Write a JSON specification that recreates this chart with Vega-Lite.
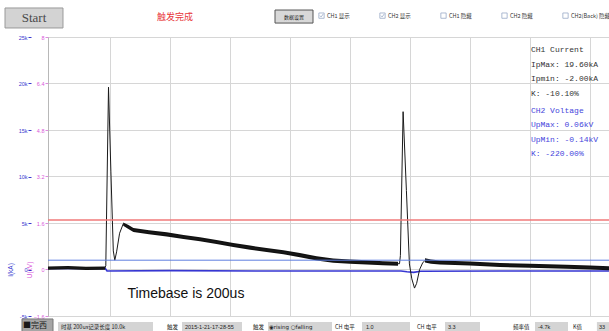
{
"$schema": "https://vega.github.io/schema/vega-lite/v6.json",
"width": 561, "height": 279,
"autosize": {"type": "none"},
"padding": {"left": 48, "top": 37, "right": 0, "bottom": 15},
"background": "white",
"config": {"view": {"stroke": "#c4c4c4", "strokeWidth": 1}, "font": "Liberation Sans"},
"datasets": {
"ch1": [{"t":-6.7,"I":0.15},{"t":60,"I":0.2},{"t":120,"I":0.12},{"t":182,"I":0.15},{"t":186,"I":0.4},{"t":195,"I":19.6},{"t":203,"I":10.5},{"t":211,"I":2.0},{"t":216,"I":1.0},{"t":222,"I":1.9},{"t":232,"I":3.9},{"t":244,"I":4.9},{"t":260,"I":4.6},{"t":278,"I":4.25},{"t":330,"I":4.0},{"t":389,"I":3.78},{"t":445,"I":3.5},{"t":500,"I":3.25},{"t":555,"I":2.95},{"t":611,"I":2.63},{"t":667,"I":2.35},{"t":722,"I":2.1},{"t":778,"I":1.85},{"t":833,"I":1.55},{"t":889,"I":1.2},{"t":944,"I":0.95},{"t":1000,"I":0.85},{"t":1056,"I":0.77},{"t":1110,"I":0.68},{"t":1165,"I":0.62},{"t":1168,"I":1.5},{"t":1177,"I":16.97},{"t":1188,"I":8.5},{"t":1198,"I":0.6},{"t":1206,"I":-1.0},{"t":1215,"I":-2.0},{"t":1222,"I":-1.5},{"t":1232,"I":0.0},{"t":1242,"I":0.7},{"t":1250,"I":0.98},{"t":1270,"I":0.85},{"t":1300,"I":0.75},{"t":1400,"I":0.65},{"t":1500,"I":0.48},{"t":1600,"I":0.4},{"t":1722,"I":0.3},{"t":1800,"I":0.22},{"t":1863.3,"I":0.13}],
"ch1band": [
{"t":-6.7,"lo":-0.02,"hi":0.32,"seg":"a"},{"t":60,"lo":0.03,"hi":0.37,"seg":"a"},{"t":120,"lo":-0.05,"hi":0.29,"seg":"a"},{"t":184,"lo":-0.02,"hi":0.32,"seg":"a"},
{"t":244,"lo":4.7,"hi":5.05,"seg":"b"},{"t":260,"lo":4.38,"hi":4.8,"seg":"b"},{"t":278,"lo":4.03,"hi":4.47,"seg":"b"},{"t":330,"lo":3.78,"hi":4.22,"seg":"b"},{"t":389,"lo":3.56,"hi":4.0,"seg":"b"},{"t":445,"lo":3.28,"hi":3.72,"seg":"b"},{"t":500,"lo":3.03,"hi":3.47,"seg":"b"},{"t":555,"lo":2.73,"hi":3.17,"seg":"b"},{"t":611,"lo":2.41,"hi":2.85,"seg":"b"},{"t":667,"lo":2.13,"hi":2.57,"seg":"b"},{"t":722,"lo":1.88,"hi":2.32,"seg":"b"},{"t":778,"lo":1.63,"hi":2.07,"seg":"b"},{"t":833,"lo":1.33,"hi":1.77,"seg":"b"},{"t":889,"lo":0.98,"hi":1.42,"seg":"b"},{"t":944,"lo":0.73,"hi":1.17,"seg":"b"},{"t":1000,"lo":0.63,"hi":1.07,"seg":"b"},{"t":1056,"lo":0.55,"hi":0.99,"seg":"b"},{"t":1110,"lo":0.46,"hi":0.9,"seg":"b"},{"t":1160,"lo":0.4,"hi":0.84,"seg":"b"},
{"t":1250,"lo":0.76,"hi":1.2,"seg":"c"},{"t":1270,"lo":0.63,"hi":1.07,"seg":"c"},{"t":1300,"lo":0.53,"hi":0.97,"seg":"c"},{"t":1400,"lo":0.43,"hi":0.87,"seg":"c"},{"t":1500,"lo":0.26,"hi":0.7,"seg":"c"},{"t":1600,"lo":0.18,"hi":0.62,"seg":"c"},{"t":1722,"lo":0.08,"hi":0.52,"seg":"c"},{"t":1800,"lo":0.0,"hi":0.44,"seg":"c"},{"t":1863.3,"lo":-0.09,"hi":0.35,"seg":"c"}],
"ch2": [{"t":-6.7,"U":0.04},{"t":184,"U":0.04},{"t":190,"U":-0.05},{"t":400,"U":-0.04},{"t":700,"U":-0.05},{"t":1000,"U":-0.05},{"t":1170,"U":-0.05},{"t":1190,"U":-0.08},{"t":1212,"U":-0.1},{"t":1235,"U":-0.06},{"t":1500,"U":-0.05},{"t":1863.3,"U":-0.05}],
"options": [{"option":"CH1 显示"},{"option":"CH2 显示"},{"option":"CH1 隐藏"},{"option":"CH2 隐藏"},{"option":"CH2(Back) 隐藏"}],
"one": [{}]
},
"layer": [
{
"layer": [
{"data": {"name": "ch2"},
 "mark": {"type": "line", "color": "#3636d2", "strokeWidth": 1.6},
 "encoding": {
  "x": {"field": "t", "type": "quantitative", "scale": {"domain": [-6.667, 1863.333], "nice": false, "zero": false},
        "axis": {"values": [200,400,600,800,1000,1200,1400,1600,1800], "grid": true, "gridColor": "#d6d6d6", "labels": false, "ticks": false, "domain": false, "title": null}},
  "y": {"field": "U", "type": "quantitative", "scale": {"domain": [-1.6, 8], "nice": false, "zero": false},
        "axis": {"orient": "left", "offset": 0, "values": [-1.6,0,1.6,3.2,4.8,6.4,8], "format": ".2~f", "grid": true, "gridColor": "#d6d6d6",
                 "labelFontSize": 5.5, "labelColor": "#d957d9", "tickColor": "#e08ae0", "tickSize": 3, "labelPadding": 1, "domainColor": "#b8b8b8",
                 "title": "U(kV)", "titleColor": "#d957d9", "titleFontSize": 6.5, "titleFontWeight": "normal", "titleX": -19, "titleY": 232.5,
                 "titleBaseline": "middle", "titleAlign": "center", "titleAngle": 270}}
 }}
]
},
{
"data": {"name": "one"},
"layer": [
{"data": {"name": "ch1band"},
 "mark": {"type": "area", "color": "#111111", "opacity": 1},
 "encoding": {
  "x": {"field": "t", "type": "quantitative"},
  "y": {"field": "lo", "type": "quantitative", "scale": {"domain": [-5, 25], "nice": false, "zero": false},
        "axis": {"orient": "left", "offset": 17, "values": [-5,0,5,10,15,20,25], "labelExpr": "datum.value == 0 ? '0' : datum.value + 'k'", "grid": false,
                 "labelFontSize": 5.5, "labelColor": "#3a3ad0", "tickColor": "#3a3ad0", "tickSize": 3, "labelPadding": 1, "domain": false,
                 "title": "I(kA)", "titleColor": "#3a3ad0", "titleFontSize": 6.5, "titleFontWeight": "normal", "titleX": -21, "titleY": 232.5,
                 "titleBaseline": "middle", "titleAlign": "center", "titleAngle": 270}},
  "y2": {"field": "hi"},
  "detail": {"field": "seg"}
 }},
{"data": {"name": "ch1"},
 "mark": {"type": "line", "color": "#1a1a1a", "strokeWidth": 1},
 "encoding": {"x": {"field": "t", "type": "quantitative"}, "y": {"field": "I", "type": "quantitative", "title": "I(kA)"}}},
{"mark": {"type": "rule", "color": "#f07a7a", "strokeWidth": 1.6}, "encoding": {"y": {"datum": 5.32}}},
{"mark": {"type": "rule", "color": "#5f7fe0", "strokeWidth": 1}, "encoding": {"y": {"datum": 1.0}}},
{"mark": {"type": "text", "align": "left", "baseline": "alphabetic", "font": "Liberation Mono", "fontSize": 8, "lineHeight": 14.5, "color": "#333333"},
 "encoding": {"x": {"datum": 1603}, "y": {"datum": 23.35}, "text": {"value": ["CH1  Current", "IpMax: 19.60kA", "Ipmin: -2.00kA", "K: -10.10%"]}}},
{"mark": {"type": "text", "align": "left", "baseline": "alphabetic", "font": "Liberation Mono", "fontSize": 8, "lineHeight": 14.5, "color": "#4646dc"},
 "encoding": {"x": {"datum": 1603}, "y": {"datum": 16.83}, "text": {"value": ["CH2  Voltage", "UpMax: 0.06kV", "UpMin: -0.14kV", "K: -220.00%"]}}},
{"mark": {"type": "text", "align": "center", "baseline": "middle", "font": "Liberation Sans", "fontSize": 14, "color": "#111111"},
 "encoding": {"x": {"datum": 453}, "y": {"datum": -2.63}, "text": {"value": "Timebase is 200us"}}},
{"mark": {"type": "rect", "fill": "#d3d3d3", "stroke": "#9a9a9a", "strokeWidth": 1, "clip": false},
 "encoding": {"x": {"datum": -150}, "x2": {"datum": 43.3}, "y": {"datum": 28.12}, "y2": {"datum": 25.97}}},
{"mark": {"type": "text", "align": "center", "baseline": "middle", "font": "Liberation Serif", "fontSize": 13, "color": "#4a4a4a", "clip": false},
 "encoding": {"x": {"datum": -53.3}, "y": {"datum": 26.99}, "text": {"value": "Start"}}},
{"mark": {"type": "text", "align": "center", "baseline": "middle", "font": "Noto Sans CJK SC", "fontSize": 9, "color": "#e8363a", "clip": false},
 "encoding": {"x": {"datum": 416.7}, "y": {"datum": 27.15}, "text": {"value": "触发完成"}}},
{"mark": {"type": "rect", "fill": "#d8d8d8", "stroke": "#555555", "strokeWidth": 1, "clip": false},
 "encoding": {"x": {"datum": 750}, "x2": {"datum": 876.7}, "y": {"datum": 27.9}, "y2": {"datum": 26.5}}},
{"mark": {"type": "text", "align": "center", "baseline": "middle", "font": "Noto Sans CJK SC", "fontSize": 5, "color": "#222222", "clip": false},
 "encoding": {"x": {"datum": 813.3}, "y": {"datum": 27.2}, "text": {"value": "数据设置"}}},
{"mark": {"type": "rect", "fill": "#a6a6a6", "stroke": "#777777", "strokeWidth": 1, "clip": false},
 "encoding": {"x": {"datum": -93.3}, "x2": {"datum": 10}, "y": {"datum": -5.32}, "y2": {"datum": -6.8}}},
{"mark": {"type": "text", "align": "left", "baseline": "middle", "font": "Noto Sans CJK SC", "fontSize": 8, "color": "#1a1a1a", "clip": false},
 "encoding": {"x": {"datum": -90}, "y": {"datum": -6.1}, "text": {"value": "■完西"}}},
{"mark": {"type": "rect", "fill": "#d4d4d4", "clip": false},
 "encoding": {"x": {"datum": 26.7}, "x2": {"datum": 343.3}, "y": {"datum": -5.65}, "y2": {"datum": -6.8}}},
{"mark": {"type": "text", "align": "left", "baseline": "middle", "font": "Noto Sans CJK SC", "fontSize": 5.5, "color": "#222222", "clip": false},
 "encoding": {"x": {"datum": 36.7}, "y": {"datum": -6.2}, "text": {"value": "时基 200us记录长度 10.0k"}}},
{"mark": {"type": "text", "align": "left", "baseline": "middle", "font": "Noto Sans CJK SC", "fontSize": 5.5, "color": "#222222", "clip": false},
 "encoding": {"x": {"datum": 390}, "y": {"datum": -6.2}, "text": {"value": "触发"}}},
{"mark": {"type": "rect", "fill": "#d4d4d4", "clip": false},
 "encoding": {"x": {"datum": 440}, "x2": {"datum": 640}, "y": {"datum": -5.65}, "y2": {"datum": -6.8}}},
{"mark": {"type": "text", "align": "left", "baseline": "middle", "font": "Liberation Sans", "fontSize": 5.5, "color": "#222222", "clip": false},
 "encoding": {"x": {"datum": 450}, "y": {"datum": -6.2}, "text": {"value": "2015-1-21-17-28-55"}}},
{"mark": {"type": "text", "align": "left", "baseline": "middle", "font": "Noto Sans CJK SC", "fontSize": 5.5, "color": "#222222", "clip": false},
 "encoding": {"x": {"datum": 676.7}, "y": {"datum": -6.2}, "text": {"value": "触发"}}},
{"mark": {"type": "rect", "fill": "#d4d4d4", "clip": false},
 "encoding": {"x": {"datum": 726.7}, "x2": {"datum": 940}, "y": {"datum": -5.65}, "y2": {"datum": -6.8}}},
{"mark": {"type": "text", "align": "left", "baseline": "middle", "font": "DejaVu Sans", "fontSize": 5.5, "color": "#222222", "clip": false},
 "encoding": {"x": {"datum": 730}, "y": {"datum": -6.2}, "text": {"value": "◉rising  ○falling"}}},
{"mark": {"type": "text", "align": "left", "baseline": "middle", "font": "Noto Sans CJK SC", "fontSize": 5.5, "color": "#222222", "clip": false},
 "encoding": {"x": {"datum": 950}, "y": {"datum": -6.2}, "text": {"value": "CH 电平"}}},
{"mark": {"type": "rect", "fill": "#d4d4d4", "clip": false},
 "encoding": {"x": {"datum": 1040}, "x2": {"datum": 1200}, "y": {"datum": -5.65}, "y2": {"datum": -6.8}}},
{"mark": {"type": "text", "align": "left", "baseline": "middle", "font": "Liberation Sans", "fontSize": 5.5, "color": "#222222", "clip": false},
 "encoding": {"x": {"datum": 1053}, "y": {"datum": -6.2}, "text": {"value": "1.0"}}},
{"mark": {"type": "text", "align": "left", "baseline": "middle", "font": "Noto Sans CJK SC", "fontSize": 5.5, "color": "#222222", "clip": false},
 "encoding": {"x": {"datum": 1223}, "y": {"datum": -6.2}, "text": {"value": "CH 电平"}}},
{"mark": {"type": "rect", "fill": "#d4d4d4", "clip": false},
 "encoding": {"x": {"datum": 1316.7}, "x2": {"datum": 1433.3}, "y": {"datum": -5.65}, "y2": {"datum": -6.8}}},
{"mark": {"type": "text", "align": "left", "baseline": "middle", "font": "Liberation Sans", "fontSize": 5.5, "color": "#222222", "clip": false},
 "encoding": {"x": {"datum": 1326.7}, "y": {"datum": -6.2}, "text": {"value": "3.3"}}},
{"mark": {"type": "text", "align": "left", "baseline": "middle", "font": "Noto Sans CJK SC", "fontSize": 5.5, "color": "#222222", "clip": false},
 "encoding": {"x": {"datum": 1543}, "y": {"datum": -6.2}, "text": {"value": "频率值"}}},
{"mark": {"type": "rect", "fill": "#d4d4d4", "clip": false},
 "encoding": {"x": {"datum": 1616.7}, "x2": {"datum": 1726.7}, "y": {"datum": -5.65}, "y2": {"datum": -6.8}}},
{"mark": {"type": "text", "align": "left", "baseline": "middle", "font": "Liberation Sans", "fontSize": 5.5, "color": "#222222", "clip": false},
 "encoding": {"x": {"datum": 1626.7}, "y": {"datum": -6.2}, "text": {"value": "-4.7k"}}},
{"mark": {"type": "text", "align": "left", "baseline": "middle", "font": "Noto Sans CJK SC", "fontSize": 5.5, "color": "#222222", "clip": false},
 "encoding": {"x": {"datum": 1743}, "y": {"datum": -6.2}, "text": {"value": "K值"}}},
{"mark": {"type": "rect", "fill": "#d4d4d4", "clip": false},
 "encoding": {"x": {"datum": 1823}, "x2": {"datum": 1880}, "y": {"datum": -5.65}, "y2": {"datum": -6.8}}},
{"mark": {"type": "text", "align": "left", "baseline": "middle", "font": "Liberation Sans", "fontSize": 5.5, "color": "#222222", "clip": false},
 "encoding": {"x": {"datum": 1830}, "y": {"datum": -6.2}, "text": {"value": "33"}}}
]
},
{"data": {"name": "options"},
 "transform": [{"filter": "false"}],
 "mark": {"type": "point", "color": "#6f86b0", "strokeWidth": 0.8, "filled": false},
 "encoding": {
  "shape": {"field": "option", "type": "nominal",
            "scale": {"domain": ["CH1 显示","CH2 显示","CH1 隐藏","CH2 隐藏","CH2(Back) 隐藏"],
                      "range": ["M-1,-1H1V1H-1Z M-0.6,0L-0.15,0.5L0.65,-0.6","M-1,-1H1V1H-1Z M-0.6,0L-0.15,0.5L0.65,-0.6","M-1,-1H1V1H-1Z","M-1,-1H1V1H-1Z","M-1,-1H1V1H-1Z"]},
            "legend": {"orient": "none", "legendX": 270, "legendY": -25, "direction": "horizontal", "title": null,
                       "labelFontSize": 5.5, "labelFont": "Noto Sans CJK SC", "labelColor": "#333333", "symbolSize": 28,
                       "symbolStrokeWidth": 0.8, "labelOffset": 2, "columnPadding": 28, "padding": 0}}
 }}
],
"resolve": {"scale": {"y": "independent"}}
}
